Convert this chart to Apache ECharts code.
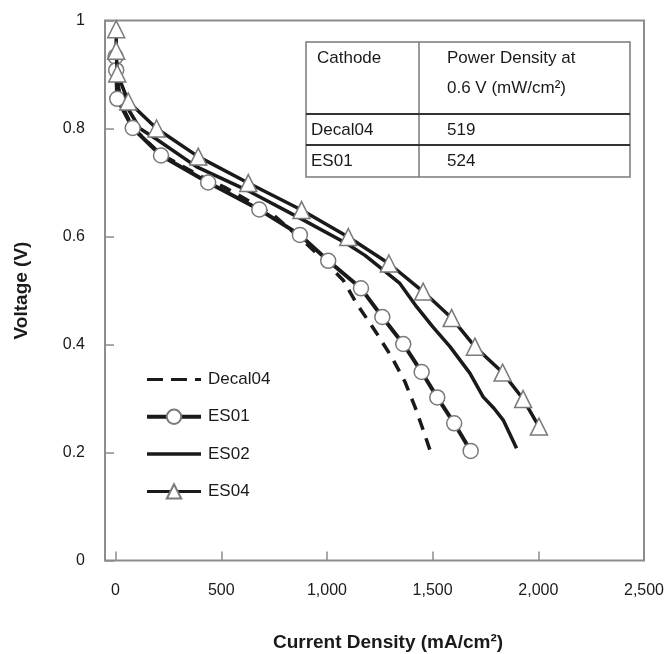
<!DOCTYPE html>
<html>
<head>
<meta charset="utf-8">
<script src="https://cdn.jsdelivr.net/npm/echarts@6/dist/echarts.min.js"></script>
<style>
  html, body { margin: 0; padding: 0; background: #fff; }
  #chart { width: 665px; height: 654px; }
</style>
</head>
<body>
<div id="chart"></div>
<script>
// Polarization curves: [current density mA/cm2, voltage V]
const decal04 = [[0, 0.95], [5, 0.9], [15, 0.855], [80, 0.802], [215, 0.752], [430, 0.706], [517, 0.691], [746, 0.64], [865, 0.6], [951, 0.569], [1077, 0.519], [1140, 0.476], [1235, 0.421], [1306, 0.377], [1369, 0.331], [1416, 0.285], [1455, 0.242], [1487, 0.205]];
const es01 = [[0, 0.933], [3, 0.908], [8, 0.855], [81, 0.801], [215, 0.75], [438, 0.7], [680, 0.65], [872, 0.603], [1006, 0.555], [1161, 0.504], [1262, 0.451], [1361, 0.401], [1448, 0.349], [1522, 0.302], [1602, 0.254], [1680, 0.203]];
const es02 = [[0, 0.955], [5, 0.9], [20, 0.862], [115, 0.8], [194, 0.78], [384, 0.729], [636, 0.683], [872, 0.634], [1093, 0.587], [1180, 0.565], [1266, 0.538], [1345, 0.513], [1424, 0.47], [1500, 0.433], [1582, 0.396], [1676, 0.347], [1739, 0.303], [1790, 0.282], [1834, 0.26], [1897, 0.208]];
const es04 = [[3, 0.984], [3, 0.944], [8, 0.902], [60, 0.85], [194, 0.8], [391, 0.748], [628, 0.699], [880, 0.649], [1101, 0.599], [1293, 0.55], [1455, 0.498], [1590, 0.449], [1700, 0.396], [1831, 0.348], [1928, 0.299], [2003, 0.248]];

const xTicks = [0, 500, 1000, 1500, 2000, 2500];
const tableHeader = ['Cathode', 'Power Density at', '0.6 V (mW/cm²)'];
const tableRows = [['Decal04', '519'], ['ES01', '524']];

const FONT = '"Liberation Sans", Arial, sans-serif';
const INK = '#1a1a1a';
const FRAME = '#8c8c8c';
const MARK_EDGE = '#7a7a7a';

const chart = echarts.init(document.getElementById('chart'));

// inset table drawn as graphic elements
const tbl = { left: 306, top: 42, right: 630, bottom: 177, col: 419, rows: [114, 145] };
const tableGraphic = [
    { type: 'rect', shape: { x: tbl.left, y: tbl.top, width: tbl.right - tbl.left, height: tbl.bottom - tbl.top },
      style: { fill: '#fff', stroke: '#7a7a7a', lineWidth: 1.5 } },
    { type: 'line', shape: { x1: tbl.col, y1: tbl.top, x2: tbl.col, y2: tbl.bottom }, style: { stroke: '#7a7a7a', lineWidth: 1.5 } },
    { type: 'line', shape: { x1: tbl.left, y1: tbl.rows[0], x2: tbl.right, y2: tbl.rows[0] }, style: { stroke: '#333', lineWidth: 2 } },
    { type: 'line', shape: { x1: tbl.left, y1: tbl.rows[1], x2: tbl.right, y2: tbl.rows[1] }, style: { stroke: '#333', lineWidth: 2 } }
];
const cellText = (text, x, y) => ({
    type: 'text', x: x, y: y,
    style: { text: text, font: '17px ' + FONT, fill: INK, verticalAlign: 'middle' }
});
tableGraphic.push(cellText(tableHeader[0], 317, 58));
tableGraphic.push(cellText(tableHeader[1], 447, 58));
tableGraphic.push(cellText(tableHeader[2], 447, 88));
tableRows.forEach((row, i) => {
    const y = i === 0 ? 130 : 161;
    tableGraphic.push(cellText(row[0], 311, y));
    tableGraphic.push(cellText(row[1], 447, y));
});

// no marker in legend for the plain lines
const noMark = { color: 'rgba(0,0,0,0)', borderColor: 'rgba(0,0,0,0)', borderWidth: 0 };

const option = {
    animation: false,
    backgroundColor: '#fff',
    textStyle: { fontFamily: FONT },
    grid: {
        left: 105, right: 21, top: 20.5, bottom: 93.5,
        outerBoundsMode: 'none',
        show: true, borderColor: FRAME, borderWidth: 2
    },
    legend: {
        orient: 'vertical',
        left: 140, top: 366,
        itemWidth: 54, itemHeight: 18, itemGap: 20.3,
        textStyle: { fontSize: 17, color: INK, padding: [0, 0, 0, 2] },
        data: [
            { name: 'Decal04', itemStyle: noMark, lineStyle: { width: 3, type: [16, 8] } },
            { name: 'ES01', lineStyle: { width: 4 } },
            { name: 'ES02', itemStyle: noMark, lineStyle: { width: 3.5 } },
            { name: 'ES04', lineStyle: { width: 3 } }
        ]
    },
    xAxis: {
        type: 'value',
        min: -50, max: 2500,
        name: 'Current Density (mA/cm²)',
        nameLocation: 'middle',
        nameGap: 73,
        nameTextStyle: { fontSize: 19, fontWeight: 'bold', color: INK, padding: [0, 0, 0, 27] },
        axisLine: { show: false, onZero: false },
        axisTick: { show: true, inside: true, length: 9, customValues: xTicks, lineStyle: { color: FRAME, width: 1.5 } },
        axisLabel: {
            customValues: xTicks, fontSize: 16, color: INK, margin: 22,
            formatter: v => v.toLocaleString('en-US')
        },
        splitLine: { show: false }
    },
    yAxis: {
        type: 'value',
        min: 0, max: 1, interval: 0.2,
        name: 'Voltage (V)',
        nameLocation: 'middle',
        nameGap: 74,
        nameTextStyle: { fontSize: 19, fontWeight: 'bold', color: INK },
        axisLine: { show: false, onZero: false },
        axisTick: { show: true, inside: true, length: 9, lineStyle: { color: FRAME, width: 1.5 } },
        axisLabel: { fontSize: 16, color: INK, margin: 20 },
        splitLine: { show: false }
    },
    graphic: tableGraphic,
    series: [
        {
            name: 'Decal04', type: 'line', data: decal04,
            symbol: 'none', z: 2,
            lineStyle: { color: INK, width: 3.5, type: [12, 9] },
            itemStyle: { color: INK }
        },
        {
            name: 'ES01', type: 'line', data: es01,
            symbol: 'circle', symbolSize: 15, z: 4,
            lineStyle: { color: INK, width: 4 },
            itemStyle: { color: '#fff', borderColor: MARK_EDGE, borderWidth: 1.5 }
        },
        {
            name: 'ES02', type: 'line', data: es02,
            symbol: 'none', z: 3,
            lineStyle: { color: INK, width: 3.5 },
            itemStyle: { color: INK }
        },
        {
            name: 'ES04', type: 'line', data: es04,
            symbol: 'triangle', symbolSize: 17, z: 5,
            lineStyle: { color: INK, width: 3.5 },
            itemStyle: { color: '#fff', borderColor: MARK_EDGE, borderWidth: 1.5 }
        }
    ]
};

chart.setOption(option);
</script>
</body>
</html>
